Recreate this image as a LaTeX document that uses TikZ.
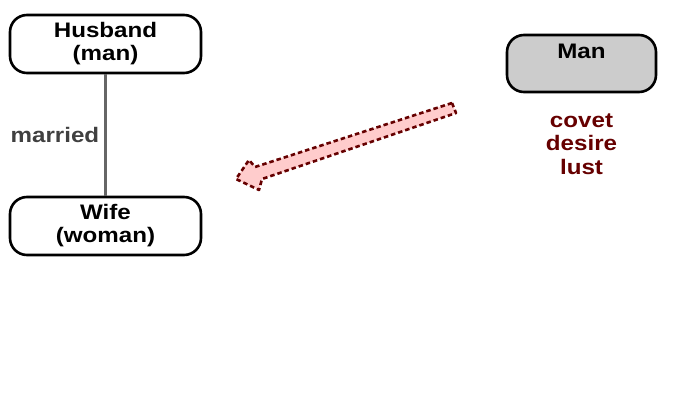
\documentclass[tikz,border=0pt]{standalone}
\usepackage{fontspec}
\setmainfont{Liberation Sans}[FakeStretch=1.15]
\definecolor{darkred}{HTML}{660000}
\definecolor{pinkfill}{HTML}{FFCCCC}
\definecolor{boxgrey}{HTML}{CCCCCC}
\definecolor{linegrey}{HTML}{666666}
\definecolor{labelgrey}{HTML}{404040}
\tikzset{
  box/.style={draw=black, line width=2.6pt, rounded corners=17pt, align=center,
    font=\fontsize{21}{23}\selectfont\bfseries, minimum width=191pt, minimum height=58pt, inner sep=0pt},
  greybox/.style={box, fill=boxgrey, minimum width=149pt, minimum height=57pt},
  marriedline/.style={draw=linegrey, line width=2.6pt},
  redtext/.style={text=darkred, align=center, font=\fontsize{21}{23.5}\selectfont\bfseries},
  bigarrow/.style={draw=darkred, fill=pinkfill, line width=2.6pt, dash pattern=on 4.5pt off 3pt, line join=round}
}
\begin{document}
\begin{tikzpicture}[x=1pt,y=-1pt]
\path[use as bounding box] (0,0) rectangle (688,412);
\node[box] (husband) at (105.5,44) {Husband\\(man)};
\node[box] (wife) at (105.5,226) {Wife\\(woman)};
\draw[marriedline] (husband) -- (wife) node[midway, left, inner sep=5pt, text=labelgrey, font=\fontsize{21}{23}\selectfont\bfseries] (marriedlabel) {married};
\node[greybox] (man) at (581.5,63.5) {Man\\[1pt]\phantom{M}};
\node[redtext] (wants) at (581.5,144) {covet\\desire\\lust};
\path[bigarrow] (452,103) -- (255,167) -- (249,160) -- (236,179) -- (259,190) -- (262,179) -- (456,113) -- cycle;
\end{tikzpicture}
\end{document}
